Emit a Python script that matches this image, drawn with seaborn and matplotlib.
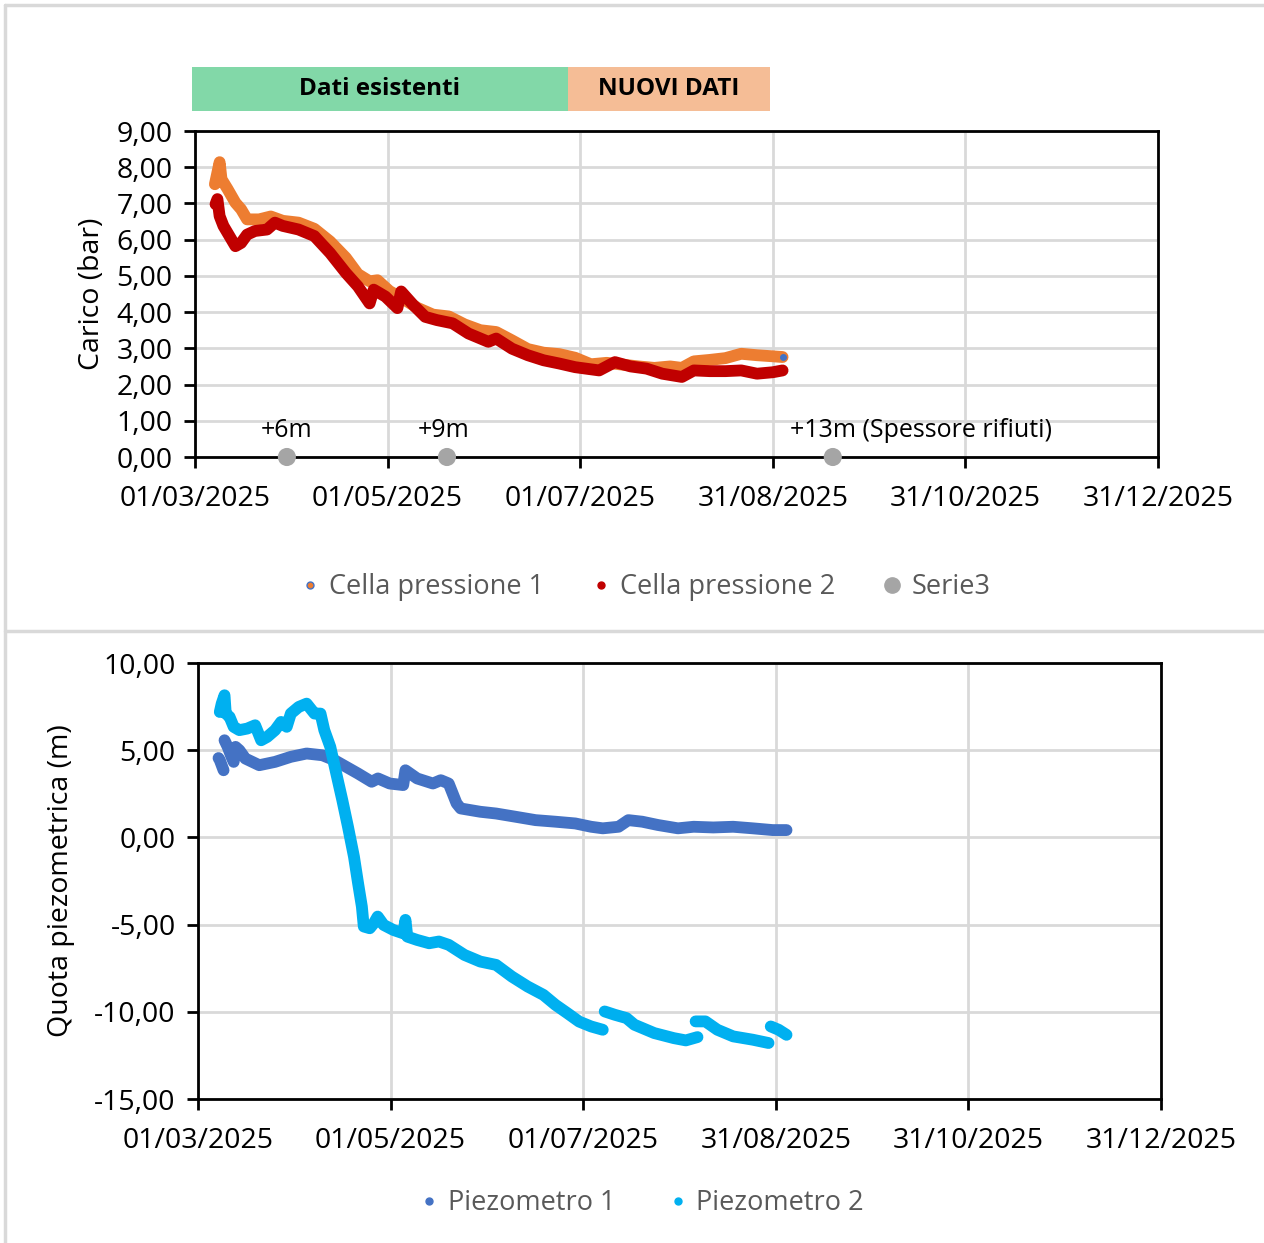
import numpy as np
import pandas as pd
import matplotlib
matplotlib.use("Agg")
import matplotlib.pyplot as plt
import matplotlib.dates as mdates
from matplotlib.lines import Line2D
from matplotlib.patches import Rectangle
import matplotlib.transforms as mtransforms
import seaborn as sns

# ---------------- DATA ----------------
START = "2025-03-01"

# Cella pressione 1 (days from 01/03/2025, bar)
cp1_days = [6.3, 7.8, 8.4, 10.3, 12.8, 14.6, 16.5, 20.3, 24.0, 27.8, 32.8, 37.8, 42.8, 47.8,
            51.6, 55.3, 57.8, 61.6, 65.3, 70.4, 75.4, 80.4, 85.4, 90.4, 95.4, 100.4, 105.4,
            110.4, 115.4, 120.4, 125.4, 130.4, 135.4, 140.5, 145.5, 150.5, 154.2, 158.0,
            163.0, 168.0, 173.0, 178.0, 183.0, 186.1]
cp1_vals = [7.53, 8.14, 7.67, 7.40, 7.02, 6.84, 6.56, 6.56, 6.64, 6.52, 6.47, 6.30, 5.95, 5.50,
            5.05, 4.85, 4.88, 4.58, 4.40, 4.12, 3.93, 3.88, 3.66, 3.50, 3.45, 3.22, 2.98,
            2.88, 2.84, 2.74, 2.56, 2.60, 2.55, 2.50, 2.46, 2.50, 2.46, 2.64,
            2.68, 2.73, 2.85, 2.81, 2.78, 2.76]

# Cella pressione 2
cp2_days = [6.5, 7.1, 7.8, 9.0, 10.9, 12.8, 14.6, 16.5, 19.0, 22.8, 25.3, 27.8, 32.8, 37.8,
            42.8, 47.8, 51.6, 55.3, 56.6, 60.3, 64.1, 65.3, 69.1, 72.9, 76.6, 81.6, 86.6,
            92.9, 95.4, 100.4, 105.4, 110.4, 115.4, 120.4, 128.0, 133.0, 138.0, 143.0,
            148.0, 154.2, 158.0, 163.0, 168.0, 173.0, 178.0, 183.0, 186.1]
cp2_vals = [6.98, 7.12, 6.65, 6.38, 6.10, 5.82, 5.91, 6.14, 6.24, 6.28, 6.47, 6.38, 6.28, 6.10,
            5.63, 5.08, 4.71, 4.24, 4.62, 4.43, 4.11, 4.57, 4.20, 3.87, 3.78, 3.69, 3.41,
            3.18, 3.27, 2.99, 2.81, 2.67, 2.58, 2.48, 2.39, 2.62, 2.50, 2.44,
            2.30, 2.21, 2.39, 2.37, 2.37, 2.39, 2.30, 2.34, 2.39]

# Serie3 (waste thickness markers)
s3_days = [29.1, 79.8, 202.0]
s3_vals = [0.0, 0.0, 0.0]
s3_labels = ["+6m", "+9m", "+13m (Spessore rifiuti)"]

# Piezometro 1 (m), segment ids mark data gaps
pz1_days = [6.5, 6.9, 8.1,
            8.4, 9.4, 10.6, 11.3, 11.9, 13.1, 15.0, 19.4, 24.4, 29.4, 34.4, 39.4, 43.2, 46.9,
            50.7, 55.0, 57.0, 60.7, 65.0, 65.7, 69.4, 74.4, 76.9, 79.4, 81.9, 83.2, 89.4,
            94.4, 100.7, 106.9, 113.2, 119.5, 124.5, 128.2, 133.2, 136.3, 140.7, 145.7,
            152.0, 157.0, 163.2, 169.5, 175.7, 182.0, 186.4]
pz1_vals = [4.55, 4.43, 3.85,
            5.57, 5.19, 4.62, 4.33, 5.19, 5.00, 4.52, 4.14, 4.33, 4.62, 4.81, 4.71, 4.43, 4.05,
            3.66, 3.19, 3.38, 3.09, 3.00, 3.85, 3.38, 3.09, 3.28, 3.09, 1.95, 1.66, 1.47,
            1.37, 1.18, 0.99, 0.90, 0.80, 0.61, 0.52, 0.61, 0.99, 0.90, 0.71,
            0.52, 0.61, 0.57, 0.61, 0.52, 0.42, 0.42]
pz1_seg = [0, 0, 0] + [1] * 45

# Piezometro 2
pz2_days = [6.9, 7.5, 8.4, 8.8, 10.0, 11.3, 13.1, 15.6, 18.1, 20.0, 21.9, 24.4, 26.3, 28.1,
            29.4, 31.9, 34.4, 36.9, 38.8, 40.0, 41.9, 43.8, 45.7, 47.5, 49.4, 50.7, 51.9,
            52.5, 54.4, 55.7, 56.9, 58.8, 61.9, 65.0, 65.7, 66.3, 69.4, 73.2, 76.3, 79.4,
            84.4, 89.4, 94.4, 99.4, 104.4, 109.4, 113.2, 117.0, 120.7, 124.5, 128.2,
            128.8, 132.0, 135.7, 138.2, 144.5, 150.7, 154.5, 158.2,
            157.6, 160.7, 164.5, 169.5, 175.7, 180.7,
            181.4, 183.9, 186.4]
pz2_vals = [7.19, 7.67, 8.15, 7.10, 6.91, 6.34, 6.15, 6.24, 6.43, 5.57, 5.76, 6.15, 6.62, 6.34,
            7.10, 7.48, 7.67, 7.10, 7.10, 6.15, 5.19, 3.66, 2.14, 0.61, -1.11, -2.63, -3.97,
            -5.11, -5.21, -4.92, -4.54, -5.02, -5.31, -5.50, -4.73, -5.69, -5.88, -6.07, -5.97, -6.16,
            -6.74, -7.12, -7.31, -7.98, -8.55, -9.03, -9.60, -10.08, -10.56, -10.84, -11.03,
            -9.98, -10.17, -10.36, -10.74, -11.22, -11.51, -11.64, -11.45,
            -10.55, -10.55, -11.03, -11.41, -11.60, -11.79,
            -10.84, -11.03, -11.32]
pz2_seg = [0] * 51 + [1] * 8 + [2] * 6 + [3] * 3

x_ticks_days = [0, 61, 122, 183, 244, 305]
header_labels = ["Dati esistenti", "NUOVI DATI"]
header_days = [(-1, 118), (118, 182)]

# ---------------- STYLE ----------------
sns.set_theme(style="white")
plt.rcParams["font.family"] = ["Open Sans", "DejaVu Sans"]

C_CP1 = "#ED7D31"
C_CP1_EDGE = "#4472C4"
C_CP2 = "#C00000"
C_S3 = "#A5A5A5"
C_PZ1 = "#4472C4"
C_PZ2 = "#00B0F0"
GRID = "#D9D9D9"
TXT_GRAY = "#595959"

start = pd.Timestamp(START)
def to_dates(days):
    return start + pd.to_timedelta(np.array(days, dtype=float), unit="D")

df_cp1 = pd.DataFrame({"date": to_dates(cp1_days), "val": cp1_vals})
df_cp2 = pd.DataFrame({"date": to_dates(cp2_days), "val": cp2_vals})
df_s3 = pd.DataFrame({"date": to_dates(s3_days), "val": s3_vals})
df_pz1 = pd.DataFrame({"date": to_dates(pz1_days), "val": pz1_vals, "seg": pz1_seg})
df_pz2 = pd.DataFrame({"date": to_dates(pz2_days), "val": pz2_vals, "seg": pz2_seg})

W, H = 1264, 1243
fig = plt.figure(figsize=(W / 100, H / 100), dpi=100)
fig.patch.set_facecolor("white")

# panel borders
for (x0, y0, x1, y1) in [(5, 5, W, 5), (5, 5, 5, H), (5, 631, W, 631)]:
    fig.add_artist(Line2D([x0 / W, x1 / W], [1 - y0 / H, 1 - y1 / H],
                          transform=fig.transFigure, color="#D9D9D9", lw=2.5))

ax1 = fig.add_axes([195 / W, 1 - 457 / H, (1158 - 195) / W, (457 - 131) / H])
ax2 = fig.add_axes([198 / W, 1 - 1099 / H, (1161 - 198) / W, (1099 - 663) / H])

LW = 8.5

# --- top chart ---
sns.lineplot(data=df_cp1, x="date", y="val", ax=ax1, color=C_CP1, lw=LW, sort=False,
             estimator=None, solid_capstyle="round", solid_joinstyle="round", zorder=3)
sns.lineplot(data=df_cp2, x="date", y="val", ax=ax1, color=C_CP2, lw=LW, sort=False,
             estimator=None, solid_capstyle="round", solid_joinstyle="round", zorder=4)
# small blue end marker on Cella 1
ax1.plot(to_dates([cp1_days[-1]]), [cp1_vals[-1]], "o", color=C_CP1_EDGE, ms=4, zorder=5)
sns.scatterplot(data=df_s3, x="date", y="val", ax=ax1, color=C_S3, s=170,
                edgecolor="none", zorder=6, clip_on=False)
label_offsets = [(0, "center"), (-1.0, "center"), (-13.5, "left")]
for d, v, lab, (off, ha) in zip(s3_days, s3_vals, s3_labels, label_offsets):
    ax1.text(to_dates([d + off])[0], 0.72, lab, ha=ha, va="center", fontsize=18,
             color="black", zorder=7)

ax1.set_ylim(0, 9)
ax1.set_yticks(np.arange(0, 9.01, 1))
ax1.set_yticklabels([f"{v:.2f}".replace(".", ",") for v in np.arange(0, 9.01, 1)])
ax1.set_ylabel("Carico (bar)", fontsize=20.5, color="black", labelpad=8)

# header boxes
trans = mtransforms.blended_transform_factory(ax1.transData, ax1.transAxes)
box_colors = ["#82D8A8", "#F5BD96"]
for (d0, d1), lab, col in zip(header_days, header_labels, box_colors):
    x0 = mdates.date2num(to_dates([d0])[0])
    x1 = mdates.date2num(to_dates([d1])[0])
    ax1.add_patch(Rectangle((x0, 1.061), x1 - x0, 0.135, transform=trans, facecolor=col,
                            edgecolor="none", clip_on=False, zorder=5))
    ax1.text((x0 + x1) / 2, 1.128, lab, transform=trans, ha="center", va="center",
             fontsize=17.5, fontweight="bold", color="black", clip_on=False, zorder=6)

# --- bottom chart ---
sns.lineplot(data=df_pz1, x="date", y="val", units="seg", estimator=None, ax=ax2,
             color=C_PZ1, lw=LW, sort=False, solid_capstyle="round",
             solid_joinstyle="round", zorder=3)
sns.lineplot(data=df_pz2, x="date", y="val", units="seg", estimator=None, ax=ax2,
             color=C_PZ2, lw=LW, sort=False, solid_capstyle="round",
             solid_joinstyle="round", zorder=4)
ax2.set_ylim(-15, 10)
yt2 = np.arange(-15, 10.01, 5)
ax2.set_yticks(yt2)
ax2.set_yticklabels([f"{v:.2f}".replace(".", ",") for v in yt2])
ax2.set_ylabel("Quota piezometrica (m)", fontsize=20.5, color="black", labelpad=14)

xt = to_dates(x_ticks_days)
for ax in (ax1, ax2):
    ax.set_xlim(xt[0], xt[-1])
    ax.set_xticks(xt)
    ax.xaxis.set_major_formatter(mdates.DateFormatter("%d/%m/%Y"))
    ax.set_xlabel("")
    ax.grid(True, color=GRID, lw=2, zorder=0)
    ax.set_axisbelow(True)
    for sp in ax.spines.values():
        sp.set_visible(True)
        sp.set_color("black")
        sp.set_linewidth(2)
    ax.tick_params(axis="both", which="major", labelsize=20.5, colors="black",
                   direction="out", length=8, width=2, bottom=True, left=True)
    ax.tick_params(axis="x", pad=12)
    ax.tick_params(axis="y", pad=8)
    ax.set_facecolor("white")
    if ax.get_legend() is not None:
        ax.get_legend().remove()

# legends
h1 = [Line2D([], [], ls="none", marker="o", ms=5, mfc=C_CP1, mec=C_CP1_EDGE, mew=1),
      Line2D([], [], ls="none", marker="o", ms=5, mfc=C_CP2, mec=C_CP2),
      Line2D([], [], ls="none", marker="o", ms=11, mfc=C_S3, mec=C_S3)]
leg1 = fig.legend(h1, ["Cella pressione 1", "Cella pressione 2", "Serie3"],
                  loc="center", bbox_to_anchor=(645 / W, 1 - 587 / H), ncol=3, frameon=False,
                  fontsize=19.5, handlelength=0.8, handletextpad=0.3, columnspacing=1.7)
for t in leg1.get_texts():
    t.set_color(TXT_GRAY)

h2 = [Line2D([], [], ls="none", marker="o", ms=5, mfc=C_PZ1, mec=C_PZ1),
      Line2D([], [], ls="none", marker="o", ms=5, mfc=C_PZ2, mec=C_PZ2)]
leg2 = fig.legend(h2, ["Piezometro 1", "Piezometro 2"],
                  loc="center", bbox_to_anchor=(641 / W, 1 - 1203 / H), ncol=2, frameon=False,
                  fontsize=19.5, handlelength=0.8, handletextpad=0.3, columnspacing=1.9)
for t in leg2.get_texts():
    t.set_color(TXT_GRAY)

fig.savefig("out.png", dpi=100, facecolor="white")
